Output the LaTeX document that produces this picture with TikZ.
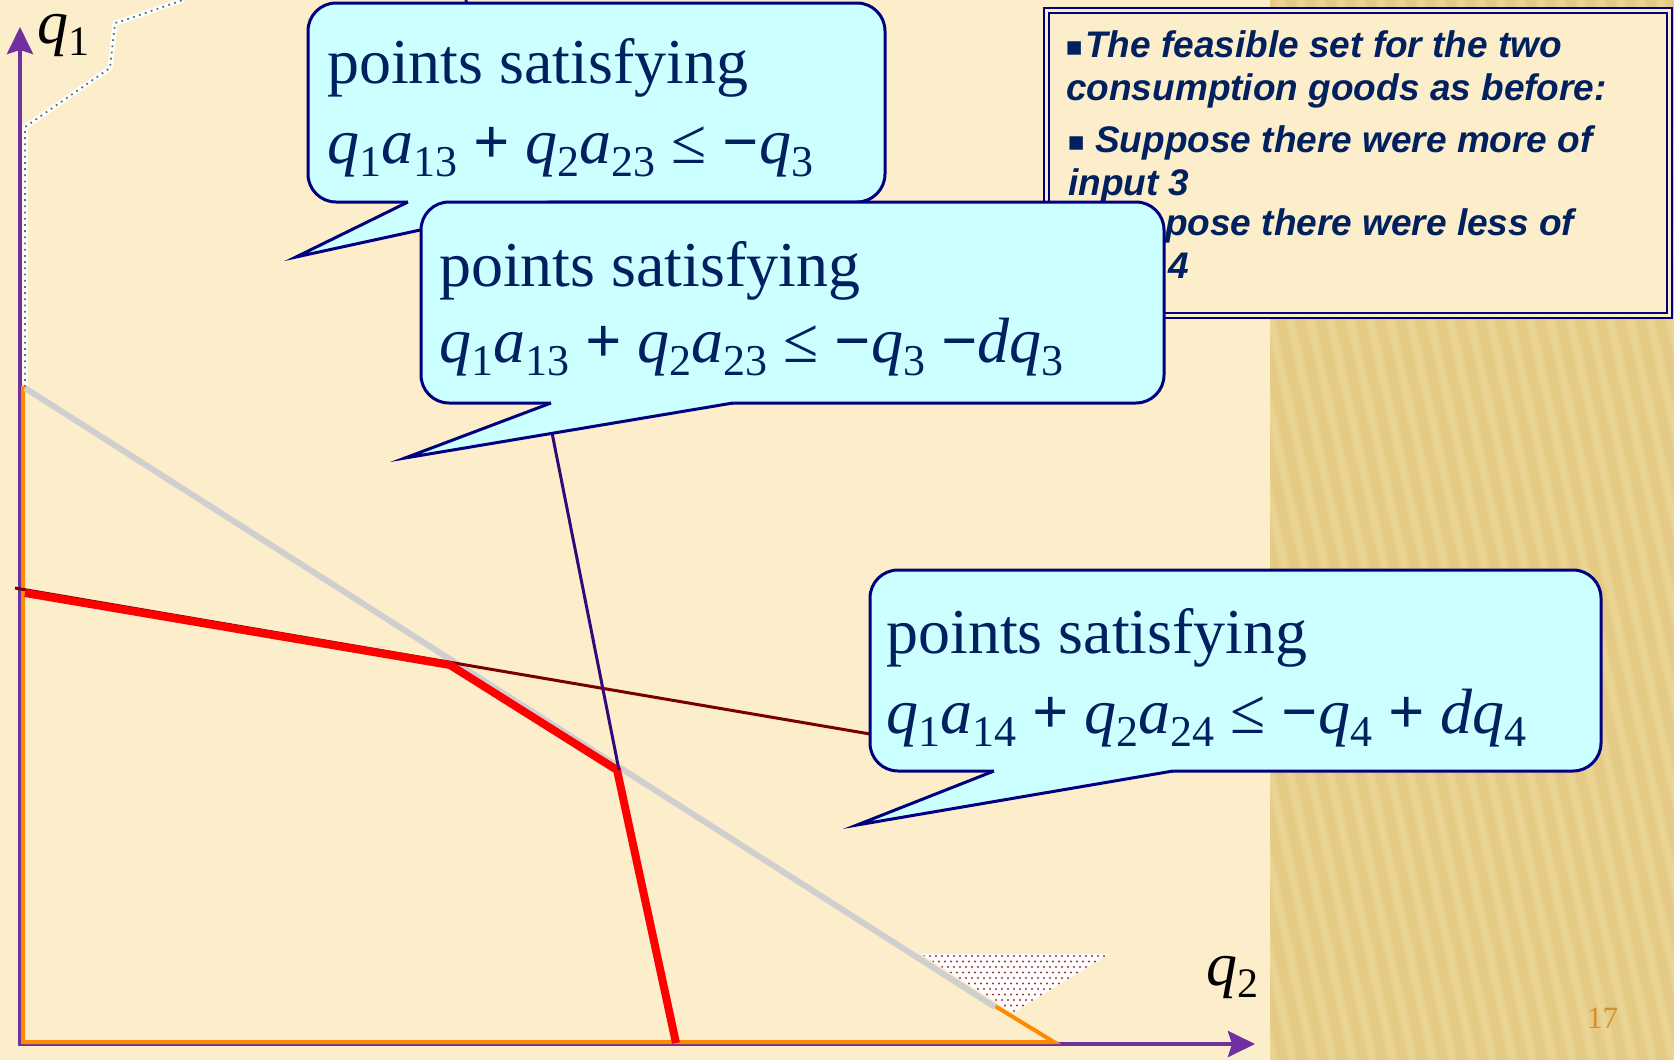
\documentclass[tikz,border=0pt]{standalone}
\usepackage{fontspec}
\setmainfont{Liberation Serif}
\newfontfamily\boxfont{Liberation Sans}
\newfontfamily\symfont{DejaVu Sans}
\usetikzlibrary{arrows.meta}
\definecolor{cream}{HTML}{FCEECA}
\definecolor{gold}{HTML}{E4CA84}
\definecolor{goldlight}{HTML}{F0DCA2}
\definecolor{axispurple}{HTML}{7030A0}
\definecolor{feasorange}{HTML}{FF8A00}
\definecolor{cfill}{HTML}{CCFFFF}
\definecolor{cline}{HTML}{000080}
\definecolor{navytext}{HTML}{002060}
\definecolor{darkredline}{HTML}{7A0000}
\definecolor{indigoline}{HTML}{35087A}
\definecolor{grayline}{HTML}{CFCFCF}
\definecolor{pagenum}{HTML}{D4902F}
\definecolor{dotcol}{HTML}{4F7A7A}
\definecolor{pinkdot}{HTML}{A03040}
\newcommand\lsub[1]{\raisebox{-13pt}{\fontsize{44}{44}\selectfont #1}}
\newcommand\iv[1]{\textit{#1}}
\newcommand\callout[8]{%
  \draw[calloutbox] (#1,#2) rectangle (#3,#4);
  \fill[cfill] (#5,#4-4) -- (#5,#4) -- (#7,#8) -- (#6,#4) -- (#6,#4-4) -- cycle;
  \draw[calloutedge] (#5,#4) -- (#7,#8) -- (#6,#4);
}
\begin{document}
\begin{tikzpicture}[x=1pt,y=-1pt,
  ctext/.style={anchor=base west, inner sep=0pt, text=navytext, font=\fontsize{64}{64}\selectfont},
  boxtext/.style={anchor=base west, inner sep=0pt, text=navytext, font=\fontsize{37}{37}\selectfont\boxfont\bfseries\itshape},
  bul/.style={anchor=base west, inner sep=0pt, text=navytext, font=\fontsize{27}{27}\selectfont\symfont},
  axislabel/.style={anchor=base west, inner sep=0pt, text height=30pt, text=black, font=\fontsize{62}{62}\selectfont},
  axisline/.style={draw=axispurple, line width=4pt, -{Stealth[length=27pt,width=26pt,inset=4pt]}},
  calloutbox/.style={fill=cfill, draw=cline, line width=3pt, rounded corners=28pt},
  calloutedge/.style={draw=cline, line width=3pt, line join=miter, miter limit=20},
]
\useasboundingbox (0,0) rectangle (1674,1060);
% background
\fill[cream] (0,0) rectangle (1270,1060);
\fill[gold] (1270,0) rectangle (1674,1060);
\begin{scope}
  \clip (1270,0) rectangle (1674,1060);
  \foreach \i in {0,...,34} {
    \draw[goldlight, line width=10pt, opacity=0.35] ({1020+\i*20},0) -- ({1020+\i*20+233},1060);
    \draw[goldlight, line width=5pt, opacity=0.35] ({1020+\i*20},0) -- ({1020+\i*20+233},1060);
  }
\end{scope}
% dotted band top-left
\draw[white, line width=5pt, line join=round] (25,387) -- (25,127) -- (110,68) -- (115,23) -- (122,21) -- (183,0);
\draw[dotcol, line width=1.8pt, dash pattern=on 1.8pt off 4.4pt] (25,387) -- (25,127) -- (110,68) -- (115,23) -- (122,21) -- (183,0);
% dotted triangle
\begin{scope}
  \clip (921,954) -- (1109,954) -- (1013,1013) -- cycle;
  \fill[white] (900,950) rectangle (1120,1020);
  \foreach \r in {0,...,11} {
    \foreach \c in {0,...,33} {
      \fill[pinkdot] ({918+\c*6+mod(\r,2)*3},{956+\r*5.5}) circle (1.2);
    }
  }
\end{scope}
% axes
\draw[axisline] (20,1045) -- (20,27);
\draw[axisline] (18,1044) -- (1255,1044);
% feasible outline
\draw[feasorange, line width=4pt, line join=miter] (23,386) -- (23,1042) -- (1054,1042) -- (995,1006);
\draw[grayline, line width=6pt] (25,388) -- (995,1007);
% constraint lines
\draw[darkredline, line width=3pt] (15,588) -- (870,734);
\draw[red, line width=8pt, line join=miter] (25,593) -- (450,665) -- (617,770) -- (676,1043);
\draw[indigoline, line width=3pt] (466,0) -- (619,770);
% axis labels
\node[axislabel] (q1) at (37,43) {\iv{q}\raisebox{-12pt}{\fontsize{42}{42}\selectfont 1}};
\node[axislabel] (q2) at (1206,985) {\iv{q}\raisebox{-12pt}{\fontsize{42}{42}\selectfont 2}};
\node[anchor=base west, inner sep=0pt, text=pagenum, font=\fontsize{31}{31}\selectfont] (pg) at (1587,1028) {17};
% callout 1
\callout{308}{3}{885}{202}{408}{549}{296}{257}
\node[ctext] (c1a) at (327,83) {points satisfying};
\node[ctext] (c1b) at (327,163) {\iv{q}\lsub{1}\iv{a}\lsub{13} \textbf{+} \iv{q}\lsub{2}\iv{a}\lsub{23} ≤ \textbf{−}\iv{q}\lsub{3}};
% text box
\draw[cline, line width=2.2pt, fill=cream] (1044,8) rectangle (1672,318);
\draw[cline, line width=1.5pt] (1049,13) rectangle (1667,313);
\node[bul] (bu1) at (1065,55) {▪};
\node[boxtext] (t1) at (1085,57) {The feasible set for the two};
\node[boxtext] (t2) at (1066,100) {consumption goods as before:};
\node[bul] (bu2) at (1067,150) {▪};
\node[boxtext] (t3) at (1095,152) {Suppose there were more of};
\node[boxtext] (t4) at (1068,195) {input 3};
\node[bul] (bu3) at (1067,233) {▪};
\node[boxtext] (t5) at (1095,235) {Suppose there were less of};
\node[boxtext] (t6) at (1068,278) {input 4};
% callout 2
\callout{421}{202}{1164}{403}{551}{733}{405}{458}
\node[ctext] (c2a) at (439,286) {points satisfying};
\node[ctext] (c2b) at (439,362) {\iv{q}\lsub{1}\iv{a}\lsub{13} \textbf{+} \iv{q}\lsub{2}\iv{a}\lsub{23} ≤ \textbf{−}\iv{q}\lsub{3} \textbf{−}\iv{dq}\lsub{3}};
% callout 3
\callout{870}{570}{1601}{771}{994}{1173}{857}{825}
\node[ctext] (c3a) at (886,653) {points satisfying};
\node[ctext] (c3b) at (886,733) {\iv{q}\lsub{1}\iv{a}\lsub{14} \textbf{+} \iv{q}\lsub{2}\iv{a}\lsub{24} ≤ \textbf{−}\iv{q}\lsub{4} \textbf{+} \iv{dq}\lsub{4}};
\end{tikzpicture}
\end{document}
